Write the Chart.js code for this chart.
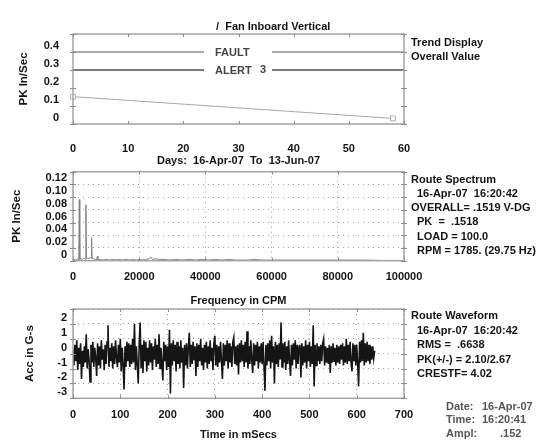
<!DOCTYPE html>
<html>
<head>
<meta charset="utf-8">
<script src="https://cdn.jsdelivr.net/npm/chart.js@4/dist/chart.umd.min.js"></script>
<style>
  body { margin: 0; background: #fff; width: 542px; height: 441px; overflow: hidden; position: relative; }
  canvas { position: absolute; left: 0; }
  .txt { position: absolute; font: bold 11px "Liberation Sans", Arial, sans-serif; color: #141414; white-space: pre; line-height: 13px; }
  .grey { color: #555; }
</style>
</head>
<body>
<canvas id="trend" width="542" height="168" style="top:0"></canvas>
<canvas id="spectrum" width="542" height="168" style="top:140px"></canvas>
<canvas id="wave" width="542" height="152" style="top:290px"></canvas>

<div class="txt" style="left:216px;top:20px">/  Fan Inboard Vertical</div>
<div class="txt" style="left:411px;top:36px">Trend Display</div>
<div class="txt" style="left:411px;top:50px">Overall Value</div>

<div class="txt" style="left:411px;top:173px">Route Spectrum</div>
<div class="txt" style="left:417px;top:187px">16-Apr-07  16:20:42</div>
<div class="txt" style="left:411px;top:201px">OVERALL= .1519 V-DG</div>
<div class="txt" style="left:417px;top:215px">PK  =  .1518</div>
<div class="txt" style="left:417px;top:230px">LOAD = 100.0</div>
<div class="txt" style="left:417px;top:244px">RPM = 1785. (29.75 Hz)</div>

<div class="txt" style="left:411px;top:309px">Route Waveform</div>
<div class="txt" style="left:417px;top:324px">16-Apr-07  16:20:42</div>
<div class="txt" style="left:417px;top:338px">RMS =  .6638</div>
<div class="txt" style="left:417px;top:353px">PK(+/-) = 2.10/2.67</div>
<div class="txt" style="left:417px;top:367px">CRESTF= 4.02</div>

<div class="txt grey" style="left:446px;top:400px">Date:</div>
<div class="txt grey" style="left:482px;top:400px">16-Apr-07</div>
<div class="txt grey" style="left:446px;top:413px">Time:</div>
<div class="txt grey" style="left:482px;top:413px">16:20:41</div>
<div class="txt grey" style="left:446px;top:427px">Ampl:</div>
<div class="txt grey" style="left:500px;top:427px">.152</div>

<script>
// trend (overall value)
const TREND_DAYS = [0, 58];
const TREND_PK = [0.152, 0.031];
const FAULT_LEVEL = 0.4;
const ALERT_LEVEL = 0.3;

// route spectrum
const SPEC_CPM = [
  0, 400, 900, 1400, 1750, 1900, 2050, 2400, 2900, 3300,
  3750, 3900, 4050, 4400, 4800, 5200, 5450, 5600, 5750, 6200,
  6700, 7200, 7350, 7500, 8200, 9000, 10000, 11000, 12000, 13000,
  14000, 15000, 16000, 17000, 18000, 19000, 20000, 21000, 22000, 23000,
  23500, 24000, 25000, 26000, 27500, 29000, 31000, 33000, 35000, 37000,
  39000, 41000, 43000, 45000, 47000, 49000, 51000, 53000, 55000, 57000,
  60000, 64000, 68000, 72000, 76000, 80000, 84000, 88000, 92000, 96000,
  100000
];
const SPEC_PK = [
  0.001, 0.002, 0.001, 0.003, 0.002, 0.096, 0.002, 0.003, 0.002, 0.004,
  0.002, 0.088, 0.003, 0.004, 0.003, 0.005, 0.004, 0.036, 0.004, 0.003,
  0.002, 0.002, 0.007, 0.002, 0.002, 0.001, 0.002, 0.001, 0.002, 0.001,
  0.002, 0.001, 0.002, 0.001, 0.002, 0.001, 0.002, 0.001, 0.002, 0.003,
  0.006, 0.002, 0.003, 0.002, 0.002, 0.001, 0.002, 0.001, 0.002, 0.001,
  0.002, 0.001, 0.002, 0.001, 0.002, 0.001, 0.001, 0.001, 0.002, 0.001,
  0.001, 0.001, 0.001, 0.001, 0.001, 0.001, 0.001, 0.001, 0.0005, 0,
  0
];

// route waveform, one sample every 2 ms
const WAVE_STEP_MS = 2;
const WAVE_G = [
  0.3, -0.8, 0.6, -0.5, 0.9, -1.1, 0.4, -0.7, 0.7, -1.7, 0.2, -0.9, 0.5, -0.6, 1.3, -1.0, 0.3, -0.4, -1.9, 0.6,
  -0.6, 0.8, -0.9, 0.4, -0.3, -1.5, 0.7, -0.8, 0.5, -1.0, 0.9, -0.4, 0.3, -1.1, 0.6, -0.7, 0.8, 1.9, -0.9, 0.4,
  -0.5, 0.7, -1.0, 0.5, -0.7, 0.9, -0.3, -0.9, 0.6, -0.6, 1.0, -1.2, 0.4, -0.8, -2.4, 0.5, -0.9, 0.8, -0.5, 0.7,
  -0.9, 0.6, -0.7, 1.0, -0.6, 2.0, -1.1, 0.5, -0.8, -2.0, 0.7, 2.1, -1.0, 0.6, -1.3, 0.9, -0.5, 0.8, -1.2, 0.4,
  -0.8, 0.9, -0.6, 0.7, -1.1, 0.5, -0.4, 1.0, -0.9, 0.6, -0.7, 1.3, -1.0, 0.4, -0.6, -1.8, 0.8, -0.5, 0.6, -1.1,
  0.5, -0.9, 1.6, -2.67, 0.7, -0.8, 0.9, -0.5, 0.6, -1.2, 0.8, -0.7, 0.5, -1.0, 0.9, -0.6, 0.4, -2.3, 0.6, -0.8,
  0.7, -1.0, 0.5, 1.4, -0.9, 0.6, -0.7, 0.8, -0.4, 0.5, -1.5, 0.7, -0.9, 0.6, -0.5, 1.0, -0.8, 0.4, -1.1, 0.6,
  -0.6, 0.8, -1.0, 0.5, -0.7, 0.9, -0.5, 0.4, -1.1, 0.7, 1.2, -0.8, 0.6, -0.9, 0.5, -0.6, 0.8, -0.5, -1.7, 0.7,
  -0.8, 0.6, -0.5, 0.9, -1.0, 0.7, -0.6, 0.5, -0.9, 0.8, 1.1, -0.7, 0.5, -0.8, 0.6, -1.4, 0.7, -0.6, 0.9, -0.5,
  0.6, -0.9, 0.8, -0.6, 1.5, -1.0, 0.5, -0.7, 0.9, -0.4, -1.3, 0.7, -0.8, 0.6, -0.5, 0.8, -1.0, 0.5, -0.6, 0.7,
  -0.7, 0.8, -0.9, -2.5, 0.6, -0.8, 0.7, -0.5, 0.9, -1.0, 1.2, -0.6, 0.5, -2.0, 0.8, -0.7, 0.6, -0.9, 0.7, -0.4,
  2.1, -0.9, 0.7, -0.6, 0.8, -1.1, 0.5, -0.7, 0.9, -0.5, -1.5, 0.6, -0.8, 0.7, -0.4, 0.9, -1.0, 0.6, -0.7, 0.5,
  0.6, -1.6, 0.7, -0.8, 0.5, -0.6, 0.9, -1.0, 0.6, -0.5, 0.8, -0.9, 0.5, -0.7, 1.9, -2.2, 0.6, -0.8, 0.7, -0.5,
  0.5, -0.7, 0.6, -0.5, 0.7, 1.0, -0.8, 0.5, -0.6, 0.4, -0.7, 0.6, -1.3, 0.5, -0.6, 0.7, -0.5, 0.4, -0.8, 0.6,
  -0.6, 0.5, -0.7, 0.6, -0.4, 0.7, -0.8, 0.5, -0.6, 1.0, -0.7, 0.6, -0.5, 0.8, -0.6, -1.2, 0.7, -0.5, 0.6, -0.8,
  0.6, -0.7, -2.2, 0.8, -0.6, 0.9, -0.5, 1.4, -0.8, 0.7, -0.6, 0.8, -0.5, 0.6, -0.7, 0.5, -0.4, 0.5, -0.3, 0.2
];

const TEXT = '#141414';
const FONT = '"Liberation Sans", Arial, sans-serif';
Chart.defaults.font.family = FONT;

// box round the plot, with short tick marks on every side
const frame = {
  id: 'frame',
  afterDatasetsDraw(chart) {
    const {ctx, chartArea: a, scales: {x, y}} = chart;
    ctx.save();
    ctx.strokeStyle = '#a4a4a4';
    ctx.lineWidth = 1.5;
    ctx.strokeRect(a.left, a.top, a.right - a.left, a.bottom - a.top);
    ctx.lineWidth = 1;
    ctx.strokeStyle = '#8c8c8c';
    ctx.beginPath();
    x.ticks.forEach((t) => {
      const px = Math.round(x.getPixelForValue(t.value)) + 0.5;
      ctx.moveTo(px, a.top);
      ctx.lineTo(px, a.top + 3);
      ctx.moveTo(px, a.bottom);
      ctx.lineTo(px, a.bottom - 3);
    });
    y.ticks.forEach((t) => {
      const py = Math.round(y.getPixelForValue(t.value)) + 0.5;
      ctx.moveTo(a.left - 3, py);
      ctx.lineTo(a.left + 3, py);
      ctx.moveTo(a.right - 3, py);
      ctx.lineTo(a.right + 3, py);
    });
    ctx.stroke();
    ctx.restore();
  }
};

// fault / alert limits on the trend plot, broken where the label sits
const limits = {
  id: 'limits',
  beforeDatasetsDraw(chart) {
    const {ctx, chartArea: a, scales: {y}} = chart;
    const gapL = 204;
    const gapR = 272;
    const rows = [
      {level: FAULT_LEVEL, text: 'FAULT', width: 1, color: '#555'},
      {level: ALERT_LEVEL, text: 'ALERT', width: 2, color: '#7a7a7a'}
    ];
    ctx.save();
    rows.forEach((r) => {
      const py = y.getPixelForValue(r.level);
      ctx.strokeStyle = r.color;
      ctx.lineWidth = r.width;
      ctx.beginPath();
      ctx.moveTo(a.left, py);
      ctx.lineTo(gapL, py);
      ctx.moveTo(gapR, py);
      ctx.lineTo(a.right, py);
      ctx.stroke();
      ctx.fillStyle = '#444';
      ctx.font = 'bold 11px ' + FONT;
      ctx.textBaseline = 'middle';
      ctx.fillText(r.text, gapL + 11, py + 1);
    });
    ctx.fillText('3', gapL + 56, y.getPixelForValue(ALERT_LEVEL));
    ctx.restore();
  }
};

function panelOptions(p) {
  return {
    responsive: false,
    animation: false,
    events: [],
    layout: {padding: {top: p.top, right: 138, left: 0, bottom: 0}},
    plugins: {legend: {display: false}, tooltip: {enabled: false}},
    scales: {
      x: {
        type: 'linear',
        min: p.xMin,
        max: p.xMax,
        afterFit: (s) => { s.height = p.xHeight; },
        border: {display: false, dash: [1, 4]},
        grid: p.grid ? {color: '#9c9c9c', drawTicks: false} : {display: false},
        ticks: {
          stepSize: p.xStep, padding: 10, color: TEXT, autoSkip: false, maxRotation: 0,
          font: {size: 11, weight: 'bold'},
          callback: (v) => String(v)
        },
        title: {display: true, text: p.xTitle, color: TEXT, font: {size: 11, weight: 'bold'}, padding: 0}
      },
      y: {
        min: p.yMin,
        max: p.yMax,
        afterFit: (s) => { s.width = 73; },
        border: {display: false, dash: [1, 4]},
        grid: p.grid ? {color: '#9c9c9c', drawTicks: false} : {display: false},
        ticks: {
          stepSize: p.yStep, padding: 6, labelOffset: -6, color: TEXT, autoSkip: false,
          font: {size: 11, weight: 'bold'},
          callback: p.yLabel
        },
        title: {display: true, text: p.yTitle, color: TEXT, font: {size: 11.5, weight: 'bold'}, padding: {top: p.yTitlePad, bottom: 0}}
      }
    }
  };
}

new Chart(document.getElementById('trend'), {
  type: 'line',
  data: {
    datasets: [{
      data: TREND_DAYS.map((d, i) => ({x: d, y: TREND_PK[i]})),
      borderColor: '#a8a8a8',
      borderWidth: 1,
      pointStyle: 'rect',
      pointRadius: 3.5,
      pointBorderColor: '#b0b0b0',
      pointBackgroundColor: '#fff',
      pointBorderWidth: 1,
      clip: 6
    }]
  },
  options: panelOptions({
    top: 34, xHeight: 44, xMin: 0, xMax: 60, xStep: 10,
    xTitle: 'Days:  16-Apr-07  To  13-Jun-07',
    yMin: 0, yMax: 0.5, yStep: 0.1, yTitle: 'PK In/Sec', yTitlePad: 17,
    yLabel: (v) => (v > 0.49 ? '' : v === 0 ? '0' : v.toFixed(1)),
    grid: false
  }),
  plugins: [limits, frame]
});

new Chart(document.getElementById('spectrum'), {
  type: 'line',
  data: {
    datasets: [{
      data: SPEC_CPM.map((f, i) => ({x: f, y: SPEC_PK[i]})),
      borderColor: '#808080',
      borderWidth: 1,
      pointRadius: 0,
      tension: 0
    }]
  },
  options: panelOptions({
    top: 31.7, xHeight: 47.3, xMin: 0, xMax: 100000, xStep: 20000,
    xTitle: 'Frequency in CPM',
    yMin: 0, yMax: 0.14, yStep: 0.02, yTitle: 'PK In/Sec', yTitlePad: 10.4,
    yLabel: (v) => (v > 0.139 ? '' : v === 0 ? '0' : v.toFixed(2)),
    grid: true
  }),
  plugins: [frame]
});

new Chart(document.getElementById('wave'), {
  type: 'line',
  data: {
    datasets: [{
      data: WAVE_G.map((g, i) => ({x: i * WAVE_STEP_MS, y: g})),
      borderColor: '#151515',
      borderWidth: 1.6,
      pointRadius: 0,
      tension: 0
    }]
  },
  options: panelOptions({
    top: 19, xHeight: 43.7, xMin: 0, xMax: 700, xStep: 100,
    xTitle: 'Time in mSecs',
    yMin: -3, yMax: 3, yStep: 1, yTitle: 'Acc in G-s', yTitlePad: 23,
    yLabel: (v) => (v > 2.9 ? '' : String(v)),
    grid: true
  }),
  plugins: [frame]
});
</script>
</body>
</html>
